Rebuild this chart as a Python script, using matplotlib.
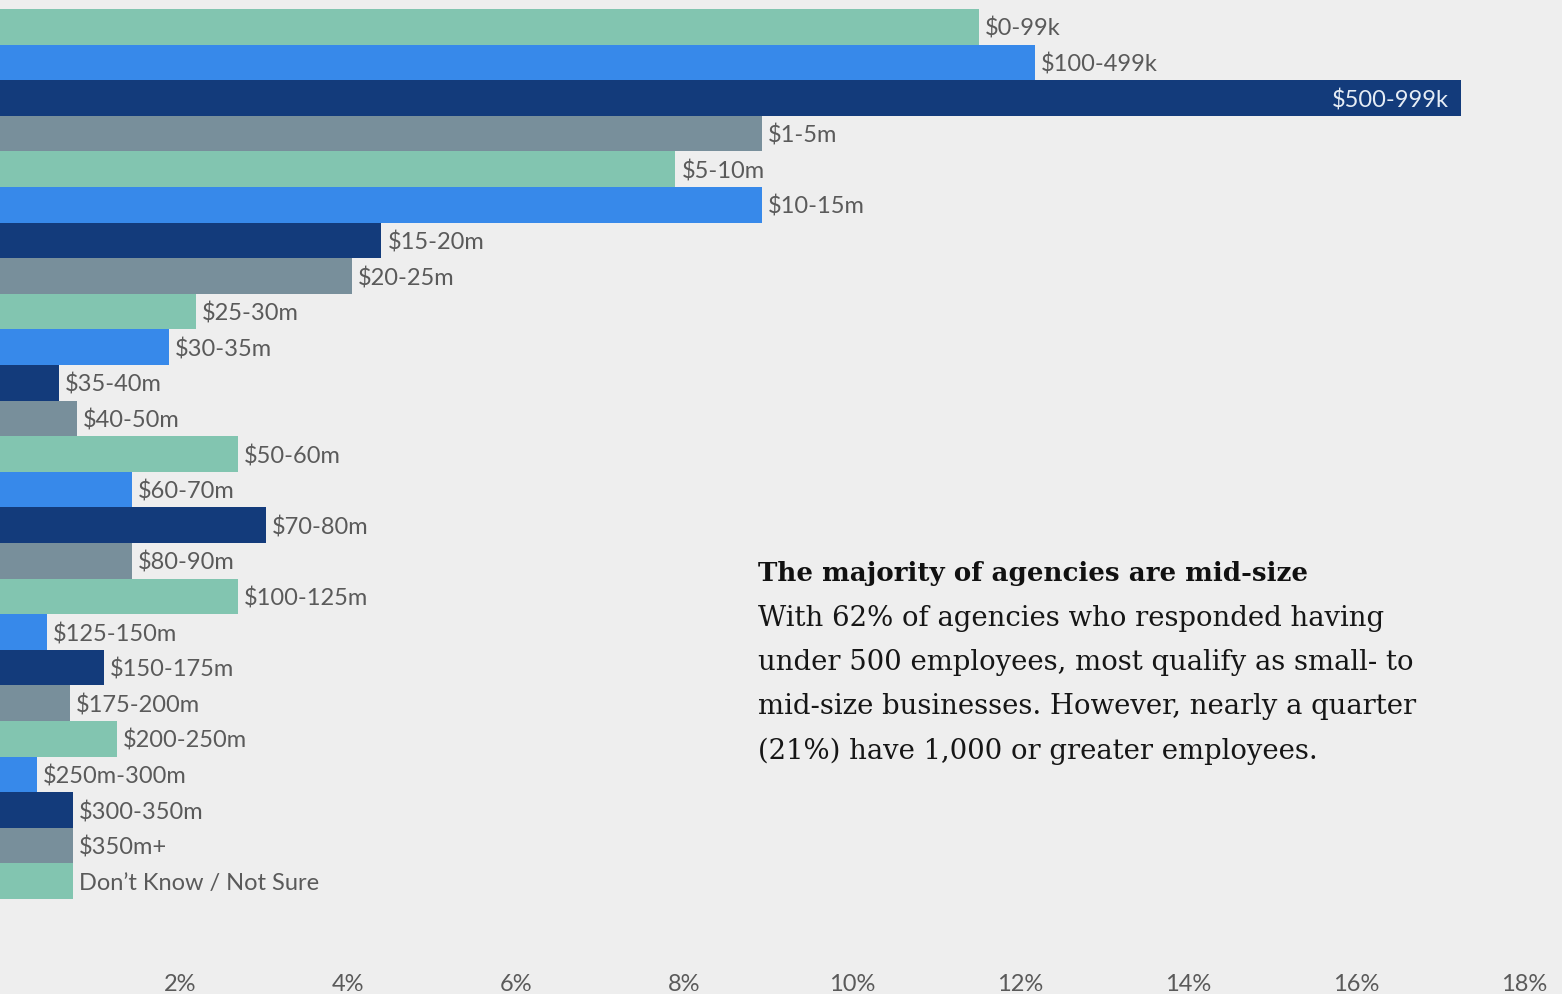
import matplotlib.pyplot as plt
from matplotlib.transforms import ScaledTranslation

categories = ["$0-99k", "$100-499k", "$500-999k", "$1-5m", "$5-10m", "$10-15m",
              "$15-20m", "$20-25m", "$25-30m", "$30-35m", "$35-40m", "$40-50m",
              "$50-60m", "$60-70m", "$70-80m", "$80-90m", "$100-125m", "$125-150m",
              "$150-175m", "$175-200m", "$200-250m", "$250m-300m", "$300-350m",
              "$350m+", "Don\u2019t Know / Not Sure"]
shares = [11.65, 12.32, 17.39, 9.07, 8.04, 9.07,
          4.54, 4.19, 2.33, 2.01, 0.70, 0.92,
          2.83, 1.57, 3.17, 1.57, 2.83, 0.56,
          1.24, 0.83, 1.39, 0.44, 0.87,
          0.87, 0.87]
ticks = [2, 4, 6, 8, 10, 12, 14, 16, 18]
tick_labels = ["2%", "4%", "6%", "8%", "10%", "12%", "14%", "16%", "18%"]

palette = ["#82c5b0", "#3789ea", "#133b7b", "#788f9b"]
bg = "#eeeeee"

title = "The majority of agencies are mid-size"
body = ["With 62% of agencies who responded having",
        "under 500 employees, most qualify as small- to",
        "mid-size businesses. However, nearly a quarter",
        "(21%) have 1,000 or greater employees."]

W, H = 1562, 994
fig = plt.figure(figsize=(W / 100, H / 100), dpi=100, facecolor=bg)
ax = fig.add_axes([0, 34 / H, 1, 960 / H])
ax.set_facecolor(bg)

px_per_pct = 84.0
bar_px = 35.6
n = len(categories)
colors = [palette[i % 4] for i in range(n)]
ax.barh(range(n), shares, height=1.0, color=colors, linewidth=0)

ax.set_xlim(0, W / px_per_pct)
ax.set_ylim(-0.5 + 951 / bar_px, -0.5 - 9 / bar_px)

# value labels, right of the bar unless there is no room
gap = 6 / px_per_pct
dy = 2 / bar_px
for i, (cat, v) in enumerate(zip(categories, shares)):
    if v > 16.5:
        ax.text(v - 12 / px_per_pct, i + dy, cat, ha="right", va="center",
                fontsize=17, family="Lato", color="#e6edf5")
    else:
        ax.text(v + gap, i + dy, cat, ha="left", va="center",
                fontsize=17, family="Lato", color="#5a5a5a")

ax.set_yticks([])
ax.set_xticks(ticks)
ax.set_xticklabels(tick_labels, family="Lato")
ax.tick_params(axis="x", length=0, pad=10, labelsize=17, labelcolor="#5a5a5a")
for lbl in ax.get_xticklabels():
    lbl.set_transform(lbl.get_transform() + ScaledTranslation(0.12, 0, fig.dpi_scale_trans))
for s in ax.spines.values():
    s.set_visible(False)

# annotation block
fig.text(758 / W, 1 - 573 / H, title, ha="left", va="center",
         fontsize=18.8, family="DejaVu Serif", weight="bold", color="#111111")
for k, line in enumerate(body):
    fig.text(758 / W, 1 - (619 + 44 * k) / H, line, ha="left", va="center",
             fontsize=19.8, family="DejaVu Serif", color="#161616")

fig.savefig("out.png", dpi=100, facecolor=bg)
